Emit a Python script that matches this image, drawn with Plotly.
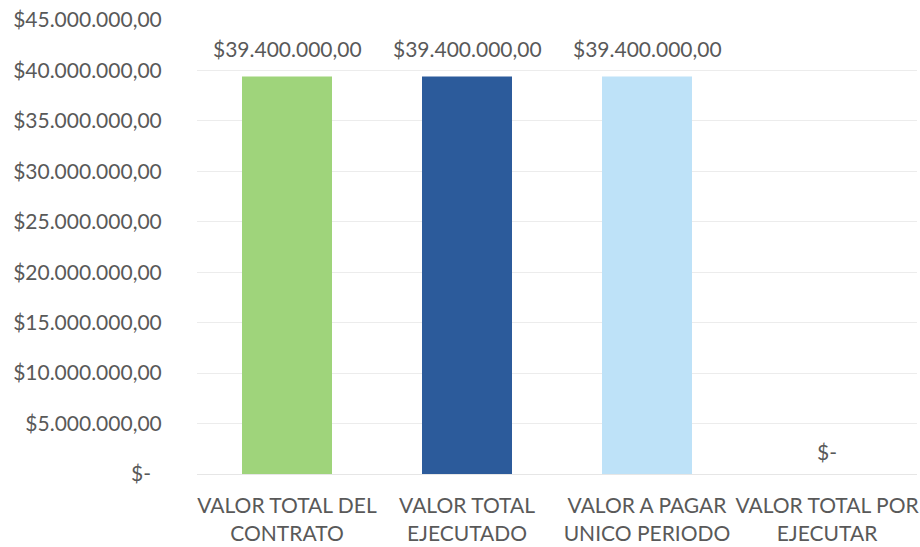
import plotly.graph_objects as go

categories = ["VALOR TOTAL DEL<br>CONTRATO", "VALOR TOTAL<br>EJECUTADO",
              "VALOR A PAGAR<br>UNICO PERIODO", "VALOR TOTAL POR<br>EJECUTAR"]
values = [39400000, 39400000, 39400000, 0]
bar_colors = ["#9fd47b", "#2c5b9b", "#bee2f8", "#bee2f8"]
tick_values = [0, 5000000, 10000000, 15000000, 20000000, 25000000,
               30000000, 35000000, 40000000, 45000000]


def money(v):
    if v == 0:
        return "$-"
    s = f"{v:,.2f}"
    s = s.replace(",", "X").replace(".", ",").replace("X", ".")
    return "$" + s


FONT = "Lato"
GRAY = "#595959"

fig = go.Figure()
fig.add_trace(go.Bar(
    x=categories, y=values,
    marker=dict(color=bar_colors, line=dict(width=0)),
    width=0.5,
    hoverinfo="skip",
))

for c, v in zip(categories, values):
    fig.add_annotation(
        x=c, y=v, text=money(v), showarrow=False,
        yanchor="bottom", yshift=13 if v else 8,
        font=dict(family=FONT, size=21, color=GRAY),
    )

fig.update_layout(
    width=920, height=547,
    margin=dict(l=197, r=3, t=20, b=73),
    paper_bgcolor="white", plot_bgcolor="white",
    showlegend=False,
    font=dict(family=FONT, color=GRAY),
)
fig.update_yaxes(
    range=[0, 45000000],
    tickvals=tick_values,
    ticktext=[money(v) + ("\u00a0\u00a0" if v == 0 else "") for v in tick_values],
    tickfont=dict(family=FONT, size=21, color=GRAY),
    showgrid=True, gridcolor="#ececec", gridwidth=1,
    zeroline=True, zerolinecolor="#e6e6e6", zerolinewidth=1,
    showline=False, automargin=False,
    ticks="outside", ticklen=30, tickcolor="rgba(0,0,0,0)",
)
fig.update_xaxes(
    tickfont=dict(family=FONT, size=21, color=GRAY),
    showgrid=False, showline=False, automargin=False,
    ticks="outside", ticklen=13, tickcolor="rgba(0,0,0,0)",
)

fig.write_html("out.html")
